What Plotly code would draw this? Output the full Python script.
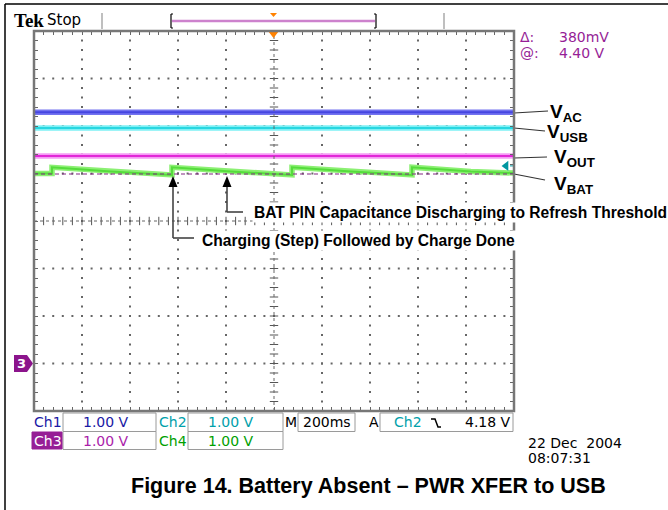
import plotly.graph_objects as go

# ---------------- data ----------------
# time axis: 200 ms/div, 10 divisions on screen
screen_t = [0, 2000]
# vertical position of each trace, in divisions from screen centre (1 V/div)
vac_div = [2.29, 2.29]
vusb_div = [1.96, 1.96]
vout_div = [1.37, 1.37]
vbat_t = [0, 75, 75, 320, 575, 575, 820, 1075, 1075, 1320, 1575, 1575, 1820, 2000]
vbat_div = [1.00, 1.00, 1.13, 1.04, 0.97, 1.13, 1.04, 0.97, 1.13, 1.04, 0.97, 1.13, 1.04, 1.01]
cursor_div = 0.99
trig_level_div = 1.16
trig_level_t = 1967

trace_labels = ["V<sub>AC</sub>", "V<sub>USB</sub>", "V<sub>OUT</sub>", "V<sub>BAT</sub>"]
ch_names = ["Ch1", "Ch2", "Ch3", "Ch4"]
ch_scales = ["1.00 V", "1.00 V", "1.00 V", "1.00 V"]
timebase = "200ms"
trig_source = "Ch2"
trig_level = "4.18 V"
cursor_delta = "380mV"
cursor_at = "4.40 V"
date_str = "22 Dec\u00a0 2004"
time_str = "08:07:31"
title_str = "Figure 14. Battery Absent \u2013 PWR XFER to USB"
note1 = "BAT PIN Capacitance Discharging to Refresh Threshold"
note2 = "Charging (Step) Followed by Charge Done"

# ---------------- layout helpers ----------------
W, H = 668, 510
L, T, R, B = 34, 31, 514, 411


def PX(x):
    return (x - L) / (R - L)


def PY(y):
    return (B - y) / (B - T)


shapes = []
ann = []


def line_px(x0, y0, x1, y1, color="#333", width=1.2, dash=None):
    d = dict(type="line", xref="paper", yref="paper", x0=PX(x0), y0=PY(y0),
             x1=PX(x1), y1=PY(y1), line=dict(color=color, width=width))
    if dash:
        d["line"]["dash"] = dash
    shapes.append(d)


def path_px(pts, fill, color=None, width=0):
    p = "M " + " L ".join(f"{PX(a):.5f},{PY(b):.5f}" for a, b in pts) + " Z"
    shapes.append(dict(type="path", xref="paper", yref="paper", path=p,
                       fillcolor=fill, line=dict(color=color or fill, width=width)))


def rect_px(x0, y0, x1, y1, color="#9a9a9a", fill=None, width=1):
    d = dict(type="rect", xref="paper", yref="paper", x0=PX(x0), y0=PY(y0),
             x1=PX(x1), y1=PY(y1), line=dict(color=color, width=width))
    if fill:
        d["fillcolor"] = fill
    shapes.append(d)


def text(x, y, s, size=14, color="black", family="DejaVu Sans",
         xanchor="left", yanchor="middle", bg=None, pad=0):
    d = dict(x=PX(x), y=PY(y), xref="paper", yref="paper", text=s,
             showarrow=False, xanchor=xanchor, yanchor=yanchor,
             font=dict(family=family, size=size, color=color), borderpad=pad)
    if bg:
        d["bgcolor"] = bg
    ann.append(d)


fig = go.Figure()

# ---------------- graticule ----------------
minor_t = [i * 40 for i in range(51)]
minor_v = [-4 + i * 0.2 for i in range(41)]
major_t = [i * 200 for i in range(1, 10)]
major_v = [-3, -2, -1, 1, 2, 3]

gx, gy = [], []
for t in major_t:
    if t == 1000:
        continue
    for v in minor_v:
        gx.append(t)
        gy.append(v)
for v in major_v:
    for t in minor_t:
        gx.append(t)
        gy.append(v)
fig.add_trace(go.Scatter(x=gx, y=gy, mode="markers", hoverinfo="skip",
                         marker=dict(symbol="square", size=2, color="#666",
                                     line=dict(width=0))))

# centre cross: dotted lines + ticks
shapes.append(dict(type="line", xref="x", yref="y", x0=1000, x1=1000, y0=-4, y1=4,
                   line=dict(color="#666", width=1, dash="dot")))
shapes.append(dict(type="line", xref="x", yref="y", x0=0, x1=2000, y0=0, y1=0,
                   line=dict(color="#666", width=1, dash="dot")))
fig.add_trace(go.Scatter(x=[1000] * len(minor_v), y=minor_v, mode="markers",
                         hoverinfo="skip",
                         marker=dict(symbol="line-ew", size=6,
                                     line=dict(color="#555", width=1))))
fig.add_trace(go.Scatter(x=minor_t, y=[0] * len(minor_t), mode="markers",
                         hoverinfo="skip",
                         marker=dict(symbol="line-ns", size=6,
                                     line=dict(color="#555", width=1))))

# ---------------- traces ----------------
def band(x, y, light, dark):
    fig.add_trace(go.Scatter(x=x, y=y, mode="lines", hoverinfo="skip",
                             line=dict(color=light, width=5.5)))
    fig.add_trace(go.Scatter(x=x, y=y, mode="lines", hoverinfo="skip",
                             line=dict(color=dark, width=2)))


band(screen_t, vac_div, "rgb(115,115,240)", "rgb(70,70,225)")
band(screen_t, vusb_div, "rgb(125,240,245)", "rgb(40,215,225)")
band(screen_t, vout_div, "rgb(245,155,245)", "rgb(225,40,215)")
band(vbat_t, vbat_div, "rgb(140,240,115)", "rgb(85,220,60)")

fig.add_trace(go.Scatter(x=screen_t, y=[cursor_div, cursor_div], mode="lines",
                         hoverinfo="skip",
                         line=dict(color="rgb(130,40,130)", width=1.2,
                                   dash="4px,3px")))

fig.add_trace(go.Scatter(x=[trig_level_t], y=[trig_level_div], mode="markers",
                         hoverinfo="skip", cliponaxis=False,
                         marker=dict(symbol="triangle-left", size=9,
                                     color="rgb(0,150,160)")))
line_px(510, 221 - trig_level_div * 47.5, 514, 221 - trig_level_div * 47.5,
        color="rgb(0,150,160)", width=1)

# ---------------- annotations on screen ----------------
# arrow 1 (charging step)
line_px(173, 185, 173, 238, color="#444", width=1.6)
line_px(173, 238, 194, 238, color="#444", width=1.6)
path_px([(173, 176), (168.5, 187), (177.5, 187)], "black")
# arrow 2 (discharge)
line_px(227, 185, 227, 212, color="#444", width=1.6)
line_px(227, 212, 243, 212, color="#444", width=1.6)
path_px([(227, 176), (222.5, 187), (231.5, 187)], "black")

text(252, 212.5, "<b>" + note1 + "</b>", size=15.6, family="Liberation Sans",
     bg="white", pad=1)
text(200, 240, "<b>" + note2 + "</b>", size=15.6, family="Liberation Sans",
     bg="white", pad=1)

# right-hand labels
leader = [((514, 113), (548, 111)), ((514, 128), (545, 131)),
          ((514, 158), (547, 157)), ((514, 174), (545, 180))]
lab_pos = [(549, 113), (546, 133), (553, 158), (553, 185)]
for (p0, p1), (lx, ly), s in zip(leader, lab_pos, trace_labels):
    line_px(p0[0], p0[1], p1[0], p1[1], color="#333", width=1.2)
    text(lx, ly, "<b>" + s + "</b>", size=19, family="Liberation Sans")

# ---------------- scope chrome ----------------
purple = "rgb(150,30,150)"
text(13, 20, "<b>Tek</b>", size=19, family="Liberation Serif")
text(46, 20, "Stop", size=15)
line_px(102, 13, 102, 29, color="#aaa", width=1.5)
line_px(444, 13, 444, 29, color="#aaa", width=1.5)
line_px(172, 21, 375, 21, color="rgb(205,130,205)", width=2.5)
line_px(171, 14, 171, 28, color="black", width=1.2)
line_px(171, 14, 173, 14, color="black", width=1.2)
line_px(171, 28, 173, 28, color="black", width=1.2)
line_px(376, 14, 376, 28, color="black", width=1.2)
line_px(374, 14, 376, 14, color="black", width=1.2)
line_px(374, 28, 376, 28, color="black", width=1.2)
path_px([(270, 13), (277, 13), (273.5, 17)], "rgb(255,130,0)")
path_px([(268, 31), (279, 31), (273.5, 38)], "rgb(255,130,0)")

text(519, 37, "\u0394:", size=14, color=purple)
text(558, 37, cursor_delta, size=14, color=purple)
text(519, 53, "@:", size=14, color=purple)
text(558, 53, cursor_at, size=14, color=purple)

# ch3 ground badge
path_px([(14, 355), (27, 355), (33, 363.5), (27, 372), (14, 372)], "rgb(140,20,140)")
text(21, 363.5, "<b>3</b>", size=13, color="white", xanchor="center")

# readout rows
ch_colors = ["rgb(25,25,165)", "rgb(0,160,170)", "rgb(170,30,170)", "rgb(0,160,0)"]
rows = [422, 440.5]
rect_px(63, 413, 156, 431.5)
rect_px(188, 413, 283, 431.5)
rect_px(298, 413, 355, 431.5)
rect_px(380, 413, 513, 431.5)
rect_px(63, 431.5, 156, 449.5)
rect_px(188, 431.5, 283, 449.5)
rect_px(32, 432, 62, 449, color="rgb(150,30,150)", fill="rgb(150,30,150)")

text(33, rows[0], ch_names[0], color=ch_colors[0])
text(82, rows[0], ch_scales[0], color=ch_colors[0])
text(158, rows[0], ch_names[1], color=ch_colors[1])
text(207, rows[0], ch_scales[1], color=ch_colors[1])
text(33, rows[1], ch_names[2], color="white")
text(82, rows[1], ch_scales[2], color=ch_colors[2])
text(158, rows[1], ch_names[3], color=ch_colors[3])
text(207, rows[1], ch_scales[3], color=ch_colors[3])
text(284, rows[0], "M")
text(302, rows[0], timebase)
text(368, rows[0], "A")
text(393, rows[0], trig_source, color=ch_colors[1])
shapes.append(dict(type="path", xref="paper", yref="paper",
                   path=f"M {PX(431):.5f},{PY(419):.5f} L {PX(435):.5f},{PY(419):.5f} "
                        f"L {PX(438):.5f},{PY(427):.5f} L {PX(441):.5f},{PY(427):.5f}",
                   line=dict(color="black", width=1.5)))
text(512, rows[0], trig_level, xanchor="right")

text(527, 443, date_str, size=14)
text(527, 458, time_str, size=14)

# title
text(368, 486, "<b>" + title_str + "</b>", size=21.5, family="Liberation Sans",
     xanchor="center")

# outer frame
line_px(5, 4, 668, 4, color="black", width=1.5)
line_px(5, 4, 5, 510, color="black", width=1.5)

# graticule frame
rect_px(L, T, R, B, color="#777", width=2.5)

axis_common = dict(showgrid=False, zeroline=False, showticklabels=False,
                   ticks="inside", ticklen=4, tickwidth=1, tickcolor="#666",
                   mirror="ticks", showline=False, fixedrange=True)
fig.update_xaxes(range=[0, 2000], tickmode="linear", tick0=0, dtick=40,
                 **axis_common)
fig.update_yaxes(range=[-4, 4], tickmode="linear", tick0=-4, dtick=0.2,
                 **axis_common)

fig.update_layout(width=W, height=H, margin=dict(l=L, r=W - R, t=T, b=H - B),
                  paper_bgcolor="white", plot_bgcolor="white",
                  showlegend=False, shapes=shapes, annotations=ann)

fig.write_html("out.html", config={"displayModeBar": False},
               post_script="document.body.style.margin='0';")
